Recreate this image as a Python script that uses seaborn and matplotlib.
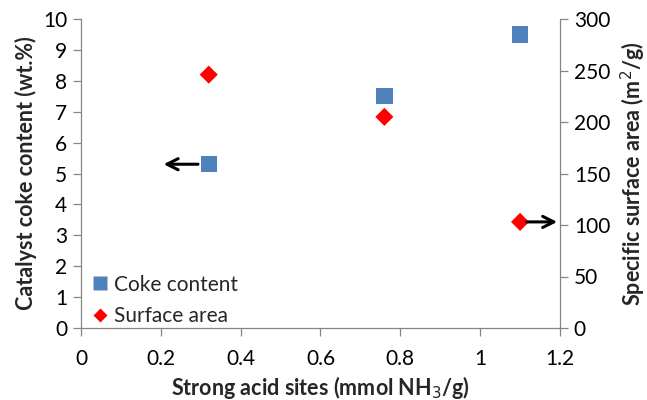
import matplotlib
matplotlib.use("Agg")
import matplotlib.pyplot as plt
import seaborn as sns
import pandas as pd
from matplotlib.lines import Line2D

acid_sites = [0.32, 0.76, 1.10]
coke_content = [5.3, 7.5, 9.5]
surface_area = [246, 205, 103]

x_ticks = [0, 0.2, 0.4, 0.6, 0.8, 1, 1.2]
x_tick_labels = ["0", "0.2", "0.4", "0.6", "0.8", "1", "1.2"]
left_ticks = list(range(0, 11))
right_ticks = list(range(0, 301, 50))

sns.set_theme(style="white")
plt.rcParams["font.family"] = ["Lato", "DejaVu Sans"]

df = pd.DataFrame({"acid": acid_sites, "coke": coke_content, "area": surface_area})

fig = plt.figure(figsize=(6.47, 4.0), dpi=100)
ax = fig.add_axes([0.1252, 0.18, 0.7403, 0.7725])
ax2 = ax.twinx()

blue = "#4F81BD"
red = "#FF0000"

sns.scatterplot(data=df, x="acid", y="coke", ax=ax, marker="s", s=140,
                color=blue, edgecolor="none", legend=False)
sns.scatterplot(data=df, x="acid", y="area", ax=ax2, marker="D", s=85,
                color=red, edgecolor="none", legend=False)

ax.set_xlim(0, 1.2)
ax.set_ylim(0, 10)
ax2.set_ylim(0, 300)
ax.set_xticks(x_ticks)
ax.set_xticklabels(x_tick_labels)
ax.set_yticks(left_ticks)
ax2.set_yticks(right_ticks)

grey = "#868686"
for a in (ax, ax2):
    for s in a.spines.values():
        s.set_visible(False)
ax.spines["left"].set_visible(True)
ax.spines["bottom"].set_visible(True)
ax2.spines["right"].set_visible(True)
for s in (ax.spines["left"], ax.spines["bottom"], ax2.spines["right"]):
    s.set_color(grey)
    s.set_linewidth(0.9)

ax.tick_params(axis="both", which="major", direction="out", length=6, width=0.9,
               color=grey, labelsize=15, labelcolor="black", pad=4,
               left=True, bottom=True)
ax.tick_params(axis="x", pad=9)
ax2.tick_params(axis="y", direction="out", length=6, width=0.9, color=grey,
                labelsize=15, labelcolor="black", right=True, pad=4)

ax.set_xlabel("Strong acid sites (mmol NH$_3$/g)", fontsize=15.5, fontweight="bold",
              labelpad=4)
ax.set_ylabel("Catalyst coke content (wt.%)", fontsize=15.5, fontweight="bold",
              labelpad=4)
ax2.set_ylabel("Specific surface area (m$^2$/g)", fontsize=15.5, fontweight="bold",
               labelpad=6)
ax2.grid(False)
ax.grid(False)

# arrows pointing at the axis each series belongs to
ax.annotate("", xy=(0.2, coke_content[0]), xytext=(0.30, coke_content[0]),
            arrowprops=dict(arrowstyle="->", color="black", lw=2.2,
                            mutation_scale=20))
ax2.annotate("", xy=(1.2, surface_area[2]), xytext=(1.11, surface_area[2]),
             arrowprops=dict(arrowstyle="->", color="black", lw=2.2,
                             mutation_scale=20))

handles = [
    Line2D([], [], marker="s", linestyle="none", color=blue, markersize=9.5,
           markeredgecolor="none", label="Coke content"),
    Line2D([], [], marker="D", linestyle="none", color=red, markersize=7,
           markeredgecolor="none", label="Surface area"),
]
ax2.legend(handles=handles, loc="lower left", bbox_to_anchor=(-0.025, -0.055),
           frameon=False, fontsize=15, handletextpad=0.05, handlelength=1.2,
           borderaxespad=0.5, labelspacing=0.55)

fig.savefig("out.png", dpi=100)
